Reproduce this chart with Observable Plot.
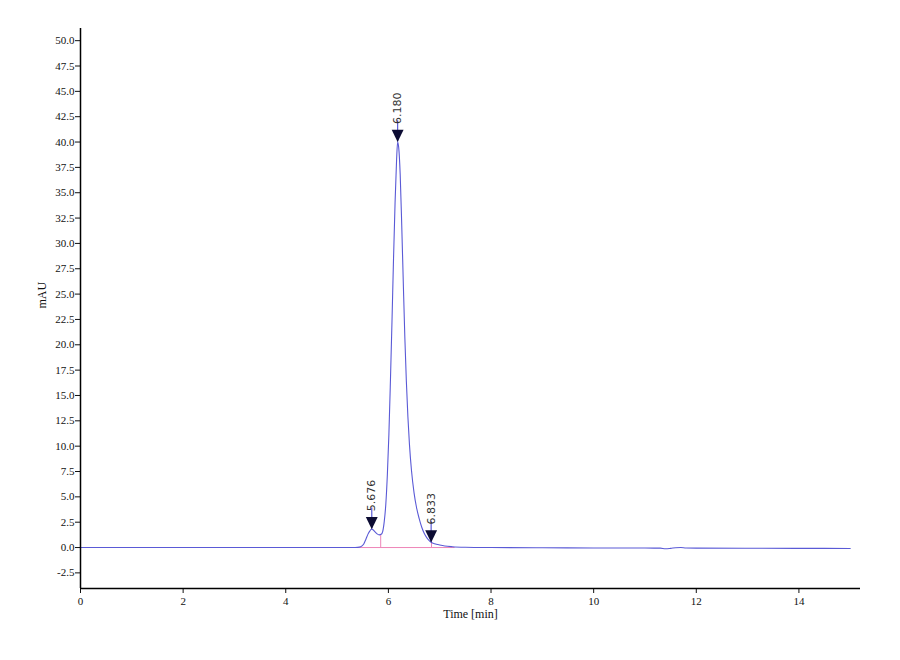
<!DOCTYPE html>
<html>
<head>
<meta charset="utf-8">
<script src="https://cdn.jsdelivr.net/npm/d3@7"></script>
<script src="https://cdn.jsdelivr.net/npm/@observablehq/plot@0.6"></script>
<style>
  html, body { margin: 0; padding: 0; background: #ffffff; }
  #chart svg { display: block; }
</style>
</head>
<body>
<div id="chart"></div>
<script>
// Chromatogram trace (time in min, signal in mAU)
const time = [0.0, 1.0, 2.0, 3.0, 4.0, 5.0, 5.30, 5.40, 5.46, 5.52, 5.56, 5.60, 5.64, 5.67, 5.70, 5.74, 5.78, 5.82, 5.86, 5.89, 5.92, 5.95, 5.98, 6.01, 6.04, 6.07, 6.10, 6.13, 6.16, 6.18, 6.20, 6.23, 6.26, 6.29, 6.32, 6.35, 6.38, 6.41, 6.45, 6.50, 6.55, 6.60, 6.65, 6.70, 6.75, 6.80, 6.84, 6.90, 7.00, 7.10, 7.25, 7.50, 8.0, 9.0, 10.0, 11.0, 11.3, 11.4, 11.5, 11.6, 11.7, 11.8, 12.0, 13.0, 14.0, 15.0];
const signal = [0.0, 0.0, 0.0, 0.0, 0.0, 0.0, 0.0, 0.02, 0.08, 0.35, 0.8, 1.3, 1.65, 1.8, 1.75, 1.55, 1.35, 1.25, 1.3, 1.6, 2.6, 4.3, 7.2, 11.2, 16.5, 22.3, 28.5, 34.0, 38.3, 40.0, 39.5, 36.8, 31.8, 26.2, 20.8, 16.4, 12.9, 10.2, 7.6, 5.4, 3.9, 2.85, 2.0, 1.38, 0.95, 0.66, 0.5, 0.38, 0.25, 0.15, 0.08, 0.03, 0.0, -0.02, -0.04, -0.05, -0.06, -0.12, -0.08, -0.02, 0.0, -0.05, -0.06, -0.07, -0.08, -0.09];

// Peak annotations
const peakTimes = [5.676, 6.180, 6.833];
const peakHeights = [1.8, 40.0, 0.5];
const peakLabels = ["5.676", "6.180", "6.833"];

// Integration baseline and drop lines
const baselineTimes = [5.40, 7.30];
const dropTimes = [5.85, 6.84];
const dropHeights = [1.28, 0.5];

// Axis ticks
const xTicks = [0, 2, 4, 6, 8, 10, 12, 14];
const yTicks = [-2.5, 0.0, 2.5, 5.0, 7.5, 10.0, 12.5, 15.0, 17.5, 20.0, 22.5, 25.0, 27.5, 30.0, 32.5, 35.0, 37.5, 40.0, 42.5, 45.0, 47.5, 50.0];
const xDomain = [0, 15.2];
const yDomain = [-4.04, 51.2];

const trace = time.map((t, i) => ({t, v: signal[i]}));
const peaks = peakTimes.map((t, i) => ({t, h: peakHeights[i], label: peakLabels[i]}));
const drops = dropTimes.map((t, i) => ({t, h: dropHeights[i]}));

const lineColor = "#5a5ad6";
const pink = "#ee86b8";

const downTriangle = {
  draw(ctx, size) {
    const r = Math.sqrt(size / Math.PI);
    ctx.moveTo(0, 0);
    ctx.lineTo(-0.85 * r, -1.75 * r);
    ctx.lineTo(0.85 * r, -1.75 * r);
    ctx.closePath();
  }
};

const chart = Plot.plot({
  width: 900,
  height: 660,
  marginLeft: 80,
  marginRight: 40,
  marginTop: 28,
  marginBottom: 72,
  style: {fontFamily: "'Liberation Serif', serif", fontSize: "11px", background: "#ffffff", color: "#111"},
  x: {domain: xDomain},
  y: {domain: yDomain},
  marks: [
    Plot.axisY({ticks: yTicks, tickSize: 5, tickPadding: 1, tickFormat: d => d.toFixed(1), label: null, fontSize: 11}),
    Plot.axisX({ticks: xTicks, tickSize: 5, tickPadding: 4, tickFormat: d => String(d), label: null, fontSize: 11}),
    Plot.ruleY([baselineTimes], {x1: d => d[0], x2: d => d[1], y: 0, stroke: pink, strokeWidth: 1}),
    Plot.ruleX(drops, {x: "t", y1: 0, y2: "h", stroke: pink, strokeWidth: 1}),
    Plot.line(trace, {x: "t", y: "v", stroke: lineColor, strokeWidth: 1.1, curve: "monotone-x"}),
    Plot.ruleX(peaks, {x: "t", y1: "h", y2: d => d.h + 2.1, stroke: lineColor, strokeWidth: 1.2}),
    Plot.dot(peaks, {x: "t", y: "h", symbol: downTriangle, r: 7, fill: "#0c0c33", stroke: "none"}),
    Plot.text(peaks, {x: "t", y: "h", text: "label", rotate: -90, textAnchor: "start", dy: -18, dx: 0, fontFamily: "'DejaVu Sans', sans-serif", fontSize: 11, fill: "#333"}),
    Plot.ruleX([xDomain[0]], {stroke: "#000", strokeWidth: 1.5}),
    Plot.ruleY([yDomain[0]], {stroke: "#000", strokeWidth: 1.5}),
    Plot.text(["Time [min]"], {frameAnchor: "bottom", dy: 29, fontSize: 12}),
    Plot.text(["mAU"], {frameAnchor: "left", dx: -38, rotate: -90, fontSize: 12})
  ]
});
document.getElementById("chart").appendChild(chart);
</script>
</body>
</html>
